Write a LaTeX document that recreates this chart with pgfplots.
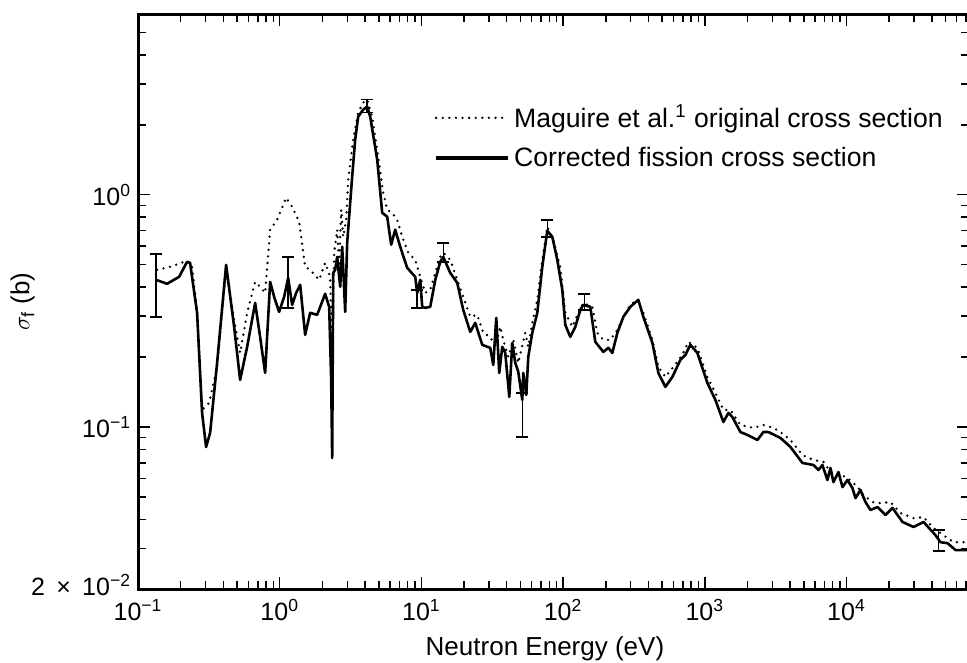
\documentclass[border=0pt]{standalone}
\usepackage{fontspec}
\setmainfont{Liberation Sans}
\usepackage{pgfplots}
\pgfplotsset{compat=1.18}
\usetikzlibrary{calc}
\begin{document}
\begin{tikzpicture}
\begin{axis}[
  xmode=log, ymode=log,
  scale only axis, width=415pt, height=287.5pt,
  xmin=0.1, xmax=72700, ymin=0.02, ymax=6,
  axis line style={line width=1.5pt},
  tick style={black, line width=0.75pt},
  major tick length=6pt, minor tick length=4pt,
  tick align=inside,
  xtick={0.1,1,10,100,1000,10000},
  xticklabels={10\textsuperscript{−1},10\textsuperscript{0},10\textsuperscript{1},10\textsuperscript{2},10\textsuperscript{3},10\textsuperscript{4}},
  minor xtick={0.2,0.3,0.4,0.5,0.6,0.7,0.8,0.9,2,3,4,5,6,7,8,9,20,30,40,50,60,70,80,90,200,300,400,500,600,700,800,900,2000,3000,4000,5000,6000,7000,8000,9000,20000,30000,40000,50000,60000,70000},
  ytick={0.1,1},
  yticklabels={10\textsuperscript{−1},10\textsuperscript{0}},
  extra y ticks={0.02},
  extra y tick labels={2\hspace{0.45em}×\hspace{0.45em}10\textsuperscript{−2}},
  extra y tick style={yticklabel style={yshift=2pt}},
  minor ytick={0.03,0.04,0.05,0.06,0.07,0.08,0.09,0.2,0.3,0.4,0.5,0.6,0.7,0.8,0.9,2,3,4,5},
  tick label style={font=\fontsize{12.5}{14}\selectfont},
  xticklabel style={yshift=-1.5pt},
  xlabel={Neutron Energy (eV)},
  ylabel={$\sigma_{\mathrm{f}}$ (b)},
  label style={font=\fontsize{13}{15}\selectfont},
  xlabel style={at={(axis description cs:0.49,-0.1026)}, anchor=center},
  ylabel style={at={(axis description cs:-0.139,0.5)}, anchor=center},
  legend style={draw=none, fill=none, at={(axis description cs:0.356,0.85)}, anchor=north west,
    font=\fontsize{13.3}{15}\selectfont, inner sep=0pt, row sep=4pt, nodes={inner sep=2pt}},
  legend cell align=left,
  legend image code/.code={\draw[#1] (0pt,0pt) -- (36pt,0pt);},
]
\addplot[black, line width=1.3pt, line cap=round, dash pattern=on 0pt off 3.3pt] coordinates {
(0.1362,0.475) (0.1683,0.4894) (0.2218,0.5194) (0.2406,0.4894) (0.2610,0.310) (0.2831,0.1184) (0.3173,0.1269) (0.3613,0.1814) (0.4182,0.4894) (0.4764,0.2892) (0.5252,0.2084) (0.5886,0.310) (0.6706,0.4217) (0.7270,0.4013) (0.7887,0.378) (0.8555,0.707) (0.9585,0.780) (1.110,0.9707) (1.223,0.888) (1.371,0.765) (1.511,0.4894) (1.639,0.475) (1.897,0.430) (2.092,0.509) (2.269,0.443) (2.345,0.2003) (2.422,0.5623) (2.543,0.707) (2.627,0.4894) (2.714,0.862) (2.804,0.659) (2.944,0.780) (3.041,1.160) (3.299,1.726) (3.578,2.256) (3.882,2.492) (4.142,2.568) (4.493,2.169) (4.954,1.458) (5.373,1.020) (5.735,0.862) (6.219,0.836) (6.746,0.780) (7.318,0.659) (8.07,0.5623) (9.042,0.5246) (9.806,0.443) (10.64,0.378) (11.54,0.3896) (12.52,0.461) (13.58,0.540) (14.26,0.5623) (15.97,0.5246) (17.89,0.430) (19.73,0.3634) (22.11,0.298) (24.78,0.304) (27.32,0.2542) (30.60,0.2443) (33.20,0.2212) (36.01,0.270) (37.81,0.2371) (41.02,0.2003) (44.49,0.2371) (48.27,0.1887) (54.08,0.2542) (56.78,0.2212) (60.60,0.2806) (65.73,0.3527) (71.31,0.5246) (77.33,0.728) (85.27,0.640) (95.5,0.4894) (103.6,0.310) (116.2,0.270) (128.1,0.310) (138.9,0.342) (160.8,0.329) (174.4,0.2542) (192.3,0.2371) (215.4,0.2371) (241.5,0.2619) (266.2,0.298) (298.3,0.3356) (334.2,0.3527) (368.5,0.310) (426.6,0.2371) (470.3,0.1814) (527.1,0.1642) (600.1,0.1814) (694.7,0.2043) (766.1,0.2325) (886.5,0.2191) (1043,0.1642) (1188,0.1401) (1353,0.1184) (1516,0.1184) (1784,0.1020) (2204,0.0990) (2593,0.1020) (3052,0.0990) (3420,0.0951) (4023,0.0879) (4891,0.0757) (5847,0.0721) (6879,0.0707) (7709,0.0640) (8637,0.0633) (10160,0.0603) (11020,0.0579) (12150,0.0546) (13180,0.0509) (15260,0.0475) (17390,0.0470) (20450,0.0475) (24060,0.0426) (29740,0.0405) (34990,0.0409) (41150,0.0367) (48420,0.0342) (56960,0.0319) (72700,0.0319)
};
\addlegendentry{Maguire et al.\textsuperscript{1} original cross section}
\addplot[black, line width=1.3pt, line join=round, legend image post style={line width=2pt}] coordinates {
(0.134,0.430) (0.1602,0.4135) (0.1948,0.443) (0.2218,0.514) (0.2329,0.509) (0.2610,0.310) (0.2831,0.1149) (0.3021,0.0820) (0.3224,0.0942) (0.3613,0.1887) (0.4182,0.499) (0.4764,0.270) (0.5252,0.1594) (0.5886,0.2212) (0.6706,0.342) (0.7270,0.2443) (0.7887,0.1709) (0.8555,0.4217) (0.9130,0.3634) (0.9903,0.313) (1.074,0.3634) (1.147,0.4387) (1.223,0.3356) (1.306,0.378) (1.394,0.4094) (1.511,0.2492) (1.639,0.310) (1.837,0.304) (2.092,0.3744) (2.233,0.329) (2.307,0.1594) (2.345,0.0735) (2.384,0.461) (2.462,0.475) (2.543,0.540) (2.671,0.4013) (2.759,0.597) (2.897,0.313) (2.992,0.621) (3.245,1.196) (3.408,1.726) (3.578,2.169) (3.882,2.325) (4.142,2.395) (4.349,2.169) (4.874,1.415) (5.287,0.836) (5.735,0.804) (6.118,0.609) (6.531,0.707) (7.085,0.597) (7.937,0.4845) (9.042,0.443) (9.340,0.378) (9.806,0.430) (10.13,0.329) (10.64,0.3257) (11.54,0.329) (12.52,0.430) (13.58,0.514) (14.26,0.540) (15.97,0.461) (17.89,0.4175) (19.73,0.3193) (22.11,0.2567) (23.98,0.2806) (26.88,0.2257) (30.60,0.2191) (32.15,0.185) (33.75,0.2950) (35.43,0.1709) (37.21,0.2212) (39.07,0.2084) (41.70,0.1347) (43.78,0.2302) (45.97,0.1887) (48.27,0.1726) (51.51,0.1308) (52.35,0.1709) (54.96,0.1374) (56.78,0.2003) (60.60,0.2542) (65.73,0.310) (71.31,0.4894) (77.33,0.6994) (83.89,0.659) (91.01,0.5246) (98.72,0.3896) (103.6,0.2753) (112.4,0.2443) (122.0,0.270) (132.3,0.3193) (138.9,0.3356) (155.6,0.329) (168.8,0.2325) (192.3,0.2105) (208.6,0.2191) (222.6,0.2084) (241.5,0.2542) (266.2,0.298) (298.3,0.329) (339.7,0.3527) (368.5,0.298) (426.6,0.2302) (470.3,0.1709) (527.1,0.1488) (590.5,0.1642) (672.4,0.1944) (729.4,0.2043) (791.2,0.2257) (886.5,0.2084) (1043,0.1548) (1188,0.1308) (1353,0.1051) (1468,0.1149) (1566,0.1104) (1784,0.0951) (1999,0.0924) (2352,0.0879) (2593,0.0951) (2813,0.0951) (3420,0.0897) (4023,0.0820) (4891,0.0700) (5847,0.0686) (6342,0.0653) (6768,0.0686) (7342,0.0591) (7709,0.0666) (8093,0.0579) (8781,0.0640) (9371,0.0551) (10160,0.0591) (11020,0.0546) (11580,0.0494) (12560,0.0535) (13620,0.0475) (14780,0.0439) (16560,0.0452) (18860,0.0418) (21130,0.0448) (24860,0.0390) (29740,0.0371) (34990,0.0390) (42510,0.0342) (46110,0.0319) (51680,0.0316) (58870,0.0295) (72700,0.0295)
};
\addlegendentry{Corrected fission cross section}
\pgfplotsset{errb/.style={black, line width=0.75pt, mark=-, mark size=3pt, mark options={solid}, forget plot}}
\addplot[errb] coordinates {(0.134,0.5565) (0.134,0.298)};
\addplot[errb] coordinates {(1.147,0.540) (1.147,0.3257)};
\addplot[errb] coordinates {(4.142,2.568) (4.142,2.256)};
\addplot[errb] coordinates {(9.34,0.3896) (9.34,0.3257)};
\addplot[errb] coordinates {(14.26,0.621) (14.26,0.514)};
\addplot[errb] coordinates {(51.51,0.1401) (51.51,0.0906)};
\addplot[errb] coordinates {(77.33,0.780) (77.33,0.659)};
\addplot[errb] coordinates {(141.1,0.3744) (141.1,0.3193)};
\addplot[errb] coordinates {(44650,0.0360) (44650,0.0292)};
\coordinate (sw) at (rel axis cs:0,0);
\coordinate (ne) at (rel axis cs:1,1);
\end{axis}
\pgfresetboundingbox
\path ($(sw)+(-69pt,-36.5pt)$) rectangle ($(ne)+(-0.75pt,7pt)$);
\end{tikzpicture}
\end{document}
